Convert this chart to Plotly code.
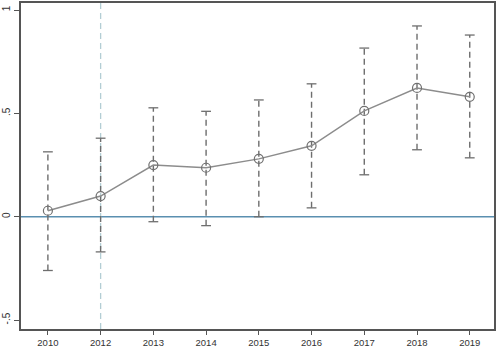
import plotly.graph_objects as go

years = ["2010", "2012", "2013", "2014", "2015", "2016", "2017", "2018", "2019"]
coef = [0.029, 0.10, 0.25, 0.237, 0.28, 0.343, 0.512, 0.623, 0.58]
upper = [0.314, 0.38, 0.527, 0.51, 0.565, 0.643, 0.816, 0.923, 0.879]
lower = [-0.26, -0.17, -0.024, -0.043, 0.0, 0.043, 0.203, 0.324, 0.285]
y_ticks = [-0.5, 0, 0.5, 1]
y_ticklabels = ["-.5", "0", ".5", "1"]
event_year = "2012"

ci_x, ci_y = [], []
for yr, lo, hi in zip(years, lower, upper):
    ci_x += [yr, yr, None]
    ci_y += [lo, hi, None]

fig = go.Figure()
fig.add_trace(go.Scatter(x=ci_x, y=ci_y, mode="lines",
                         line=dict(color="#6e6e6e", width=1.4, dash="6px,4px"),
                         hoverinfo="skip", showlegend=False))
fig.add_trace(go.Scatter(x=years + years, y=upper + lower, mode="markers",
                         marker=dict(symbol="line-ew-open", size=7, color="#6e6e6e",
                                     line=dict(color="#6e6e6e", width=1.3)),
                         showlegend=False))
fig.add_trace(go.Scatter(x=years, y=coef, mode="lines+markers",
                         line=dict(color="#8c8c8c", width=1.5),
                         marker=dict(symbol="circle-open", size=9, color="#707070",
                                     line=dict(color="#707070", width=1.2)),
                         showlegend=False))

fig.add_hline(y=0, line=dict(color="#5a8fb0", width=1.3), layer="below")
fig.add_vline(x=years.index(event_year), line=dict(color="#b3cdd4", width=1.3, dash="6px,4px"),
              layer="below")

fig.update_layout(
    width=498, height=348,
    margin=dict(l=21, r=4, t=3, b=19, autoexpand=False),
    plot_bgcolor="white", paper_bgcolor="white",
    font=dict(family="Liberation Sans, Arial, sans-serif", size=10, color="#333333"),
)
fig.update_xaxes(type="category", categoryorder="array", categoryarray=years,
                 range=[-0.51, 8.46], showgrid=False, zeroline=False, automargin=False,
                 showline=True, linecolor="#555555", linewidth=1.5, mirror=True,
                 ticks="outside", ticklen=4, tickcolor="#555555",
                 tickfont=dict(size=9.5, color="#333333"))
fig.update_yaxes(range=[-0.543, 1.034], tickvals=y_ticks, ticktext=y_ticklabels,
                 tickangle=-90, showgrid=False, zeroline=False, automargin=False,
                 showline=True, linecolor="#555555", linewidth=1.5, mirror=True,
                 ticks="outside", ticklen=5, tickcolor="#555555",
                 tickfont=dict(size=10, color="#333333"))

fig.write_html("out.html", config={"displayModeBar": False},
               post_script="document.body.style.margin='0';")
